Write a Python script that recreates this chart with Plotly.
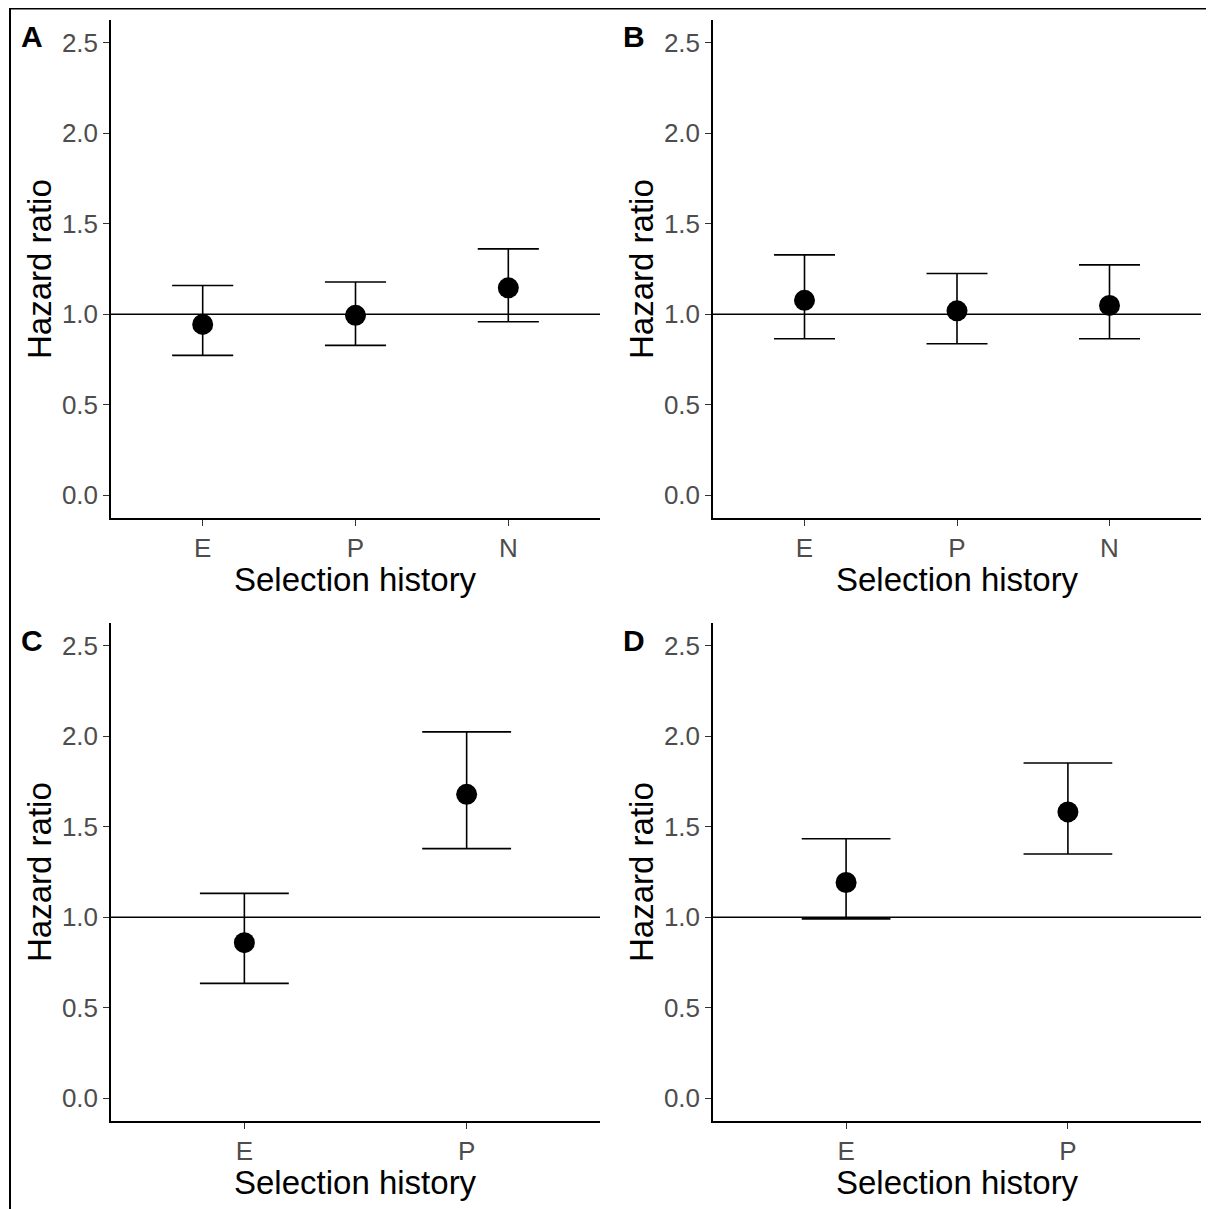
import plotly.graph_objects as go

# ---- data ----
cats_AB = ["E", "P", "N"]
cats_CD = ["E", "P"]

A_hr = [0.944, 0.994, 1.146]
A_lo = [0.773, 0.828, 0.959]
A_hi = [1.159, 1.178, 1.361]

B_hr = [1.077, 1.019, 1.049]
B_lo = [0.865, 0.837, 0.865]
B_hi = [1.328, 1.225, 1.273]

C_hr = [0.860, 1.679]
C_lo = [0.635, 1.379]
C_hi = [1.132, 2.024]

D_hr = [1.192, 1.582]
D_lo = [0.991, 1.349]
D_hi = [1.434, 1.852]

yticks = [0.0, 0.5, 1.0, 1.5, 2.0, 2.5]
panel_labels = ["A", "B", "C", "D"]
ref_line = 1.0

# ---- layout geometry (page pixels; the html body adds an 8px margin) ----
PAGE_W, PAGE_H = 1214, 1209
OFF = 8
W, H = PAGE_W - OFF, PAGE_H - OFF
FONT = "Liberation Sans, Arial, sans-serif"
cols = [(111, 600), (713, 1201)]
rows = [(20, 518), (623, 1121)]


def px_x(p):
    return (p - OFF) / W


def px_y(p):
    return 1 - (p - OFF) / H


panels = [
    (cats_AB, A_hr, A_lo, A_hi, 0, 0),
    (cats_AB, B_hr, B_lo, B_hi, 0, 1),
    (cats_CD, C_hr, C_lo, C_hi, 1, 0),
    (cats_CD, D_hr, D_lo, D_hi, 1, 1),
]

fig = go.Figure()
annotations = []
shapes = []
layout_axes = {}

for i, (cats, hr, lo, hi, r, c) in enumerate(panels):
    n = i + 1
    xa = "x" if n == 1 else f"x{n}"
    ya = "y" if n == 1 else f"y{n}"
    xl = "xaxis" if n == 1 else f"xaxis{n}"
    yl = "yaxis" if n == 1 else f"yaxis{n}"
    x0, x1 = cols[c]
    y0, y1 = rows[r]
    ncat = len(cats)
    xrange_ = [-0.6, ncat - 0.4]
    unit_px = (x1 - x0) / (xrange_[1] - xrange_[0])
    cap_half = 0.2 * unit_px

    fig.add_trace(go.Scatter(
        x=cats, y=hr, xaxis=xa, yaxis=ya, mode="markers",
        marker=dict(size=21, color="black"),
        error_y=dict(type="data", symmetric=False,
                     array=[h - v for h, v in zip(hi, hr)],
                     arrayminus=[v - l for v, l in zip(hr, lo)],
                     color="black", thickness=1.6, width=cap_half),
        showlegend=False, cliponaxis=False,
    ))

    layout_axes[xl] = dict(
        domain=[px_x(x0), px_x(x1)], anchor=ya, type="category",
        categoryorder="array", categoryarray=cats, range=xrange_,
        showline=True, linecolor="black", linewidth=1.5,
        ticks="outside", ticklen=6, tickwidth=1.3, tickcolor="#333333",
        tickfont=dict(family=FONT, size=26, color="#4D4D4D"),
        showgrid=False, zeroline=False, fixedrange=True,
    )
    layout_axes[yl] = dict(
        domain=[px_y(y1), px_y(y0)], anchor=xa,
        range=[-0.125, 2.625], tickvals=yticks,
        ticktext=[f"{v:.1f}" for v in yticks],
        showline=True, linecolor="black", linewidth=1.5,
        ticks="outside", ticklen=6, tickwidth=1.3, tickcolor="#333333",
        tickfont=dict(family=FONT, size=26, color="#4D4D4D"),
        showgrid=False, zeroline=False, fixedrange=True,
    )

    shapes.append(dict(type="line", xref=f"{xa} domain", yref=ya,
                       x0=0, x1=1, y0=ref_line, y1=ref_line,
                       line=dict(color="black", width=1.5), layer="below"))

    # axis titles
    annotations.append(dict(text="Selection history", xref="paper", yref="paper",
                            x=px_x((x0 + x1) / 2), y=px_y(y1 + 61),
                            showarrow=False, xanchor="center", yanchor="middle",
                            font=dict(family=FONT, size=33, color="black")))
    annotations.append(dict(text="Hazard ratio", xref="paper", yref="paper",
                            x=px_x(x0 - 72), y=px_y((y0 + y1) / 2),
                            textangle=-90, showarrow=False,
                            xanchor="center", yanchor="middle",
                            font=dict(family=FONT, size=33, color="black")))
    # panel letter
    annotations.append(dict(text=f"<b>{panel_labels[i]}</b>", xref="paper", yref="paper",
                            x=px_x(x0 - 79), y=px_y(y0 + 17),
                            showarrow=False, xanchor="center", yanchor="middle",
                            font=dict(family=FONT, size=30, color="black")))

# outer frame (left and top edges visible)
shapes.append(dict(type="rect", xref="paper", yref="paper",
                   x0=px_x(10), x1=px_x(PAGE_W + 10), y0=px_y(PAGE_H + 10), y1=px_y(8.5),
                   line=dict(color="black", width=2)))

fig.update_layout(
    width=W, height=H, autosize=False,
    margin=dict(l=0, r=0, t=0, b=0),
    paper_bgcolor="white", plot_bgcolor="white",
    shapes=shapes, annotations=annotations,
    **layout_axes,
)

fig.write_html("out.html")
